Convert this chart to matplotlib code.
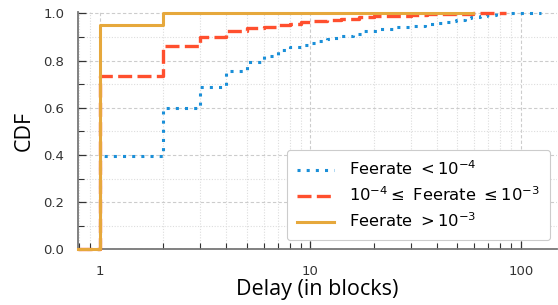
import numpy as np
import matplotlib
matplotlib.use("Agg")
import matplotlib.pyplot as plt
from matplotlib.ticker import MultipleLocator, FixedLocator, NullFormatter, LogLocator

# ---- data (step points of each empirical CDF) ----
low_delay = [1, 2, 3, 4, 5, 6, 7, 8, 9, 10, 11, 12, 13, 14, 16, 18, 21, 25, 30, 35,
             39, 42, 46, 49, 54, 58, 64, 69, 76, 125]
low_cdf = [0.395, 0.60, 0.69, 0.754, 0.794, 0.82, 0.843, 0.858, 0.868, 0.876, 0.884,
           0.890, 0.897, 0.903, 0.914, 0.924, 0.934, 0.941, 0.948, 0.955,
           0.961, 0.964, 0.969, 0.973, 0.980, 0.985, 0.990, 0.994, 1.0, 1.0]

mid_delay = [1, 2, 3, 4, 5, 6, 7, 8, 9, 10, 12, 14, 17, 20, 24, 30, 36, 59, 85]
mid_cdf = [0.733, 0.86, 0.90, 0.925, 0.938, 0.944, 0.952, 0.957, 0.962, 0.967,
           0.973, 0.978, 0.983, 0.987, 0.990, 0.994, 0.997, 1.0, 1.0]

high_delay = [1, 2, 59]
high_cdf = [0.95, 1.0, 1.0]

labels = [r"Feerate $< 10^{-4}$",
          r"$10^{-4} \leq$ Feerate $\leq 10^{-3}$",
          r"Feerate $> 10^{-3}$"]

x_ticks = [1, 10, 100]
x_ticklabels = ["1", "10", "100"]
y_ticks = [0.0, 0.2, 0.4, 0.6, 0.8, 1.0]

XMIN, XMAX = 0.79, 148

fig = plt.figure(figsize=(5.58, 3.05), dpi=100)
ax = fig.add_axes([0.1398, 0.182, 0.858, 0.778])

styles = [
    dict(color="#1a8fd8", linestyle=(0, (1, 2.0)), linewidth=2.2),
    dict(color="#ff4f2e", linestyle=(0, (4.2, 1.6)), linewidth=2.4),
    dict(color="#e6a83c", linestyle="-", linewidth=2.2),
]
series = [(low_delay, low_cdf), (mid_delay, mid_cdf), (high_delay, high_cdf)]
for (d, c), st, lab in zip(series, styles, labels):
    xs = np.r_[XMIN, d]
    ys = np.r_[0.0, c]
    ax.step(xs, ys, where="post", label=lab, clip_on=False, zorder=3, **st)

ax.set_xscale("log")
ax.set_xlim(XMIN, XMAX)
ax.set_ylim(0, 1.005)

ax.xaxis.set_major_locator(FixedLocator(x_ticks))
ax.set_xticklabels(x_ticklabels)
ax.xaxis.set_minor_locator(LogLocator(base=10, subs=np.arange(2, 10)))
ax.xaxis.set_minor_formatter(NullFormatter())
ax.yaxis.set_major_locator(FixedLocator(y_ticks))
ax.set_yticklabels([f"{v:.1f}" for v in y_ticks])
ax.yaxis.set_minor_locator(MultipleLocator(0.1))

ax.grid(which="major", color="#cccccc", linestyle=(0, (3, 2)), linewidth=0.8)
ax.grid(which="minor", color="#dddddd", linestyle=(0, (1, 1.5)), linewidth=0.8)
ax.set_axisbelow(True)

for s in ["top", "right"]:
    ax.spines[s].set_visible(False)
for s in ["left", "bottom"]:
    ax.spines[s].set_color("#777777")
    ax.spines[s].set_linewidth(1.3)

ax.tick_params(which="major", direction="in", length=6, width=0.9, color="#333333",
               labelsize=9.5, labelcolor="#333333")
ax.tick_params(which="minor", direction="in", length=4, width=0.8, color="#333333")
ax.tick_params(axis="x", which="major", pad=11)
ax.tick_params(axis="y", which="major", pad=10)

ax.set_xlabel("Delay (in blocks)", fontsize=15.5, family="Open Sans", labelpad=1)
ax.set_ylabel("CDF", fontsize=15.5, family="Open Sans", labelpad=6)

leg = ax.legend(loc="lower right", bbox_to_anchor=(0.993, 0.025), fontsize=11.8,
                frameon=True, fancybox=True, framealpha=1.0, edgecolor="#cccccc",
                handlelength=2.25, handletextpad=0.95, borderpad=0.6, labelspacing=0.45,
                borderaxespad=0.2)
leg.get_frame().set_linewidth(0.8)

fig.savefig("out.png", dpi=100)
